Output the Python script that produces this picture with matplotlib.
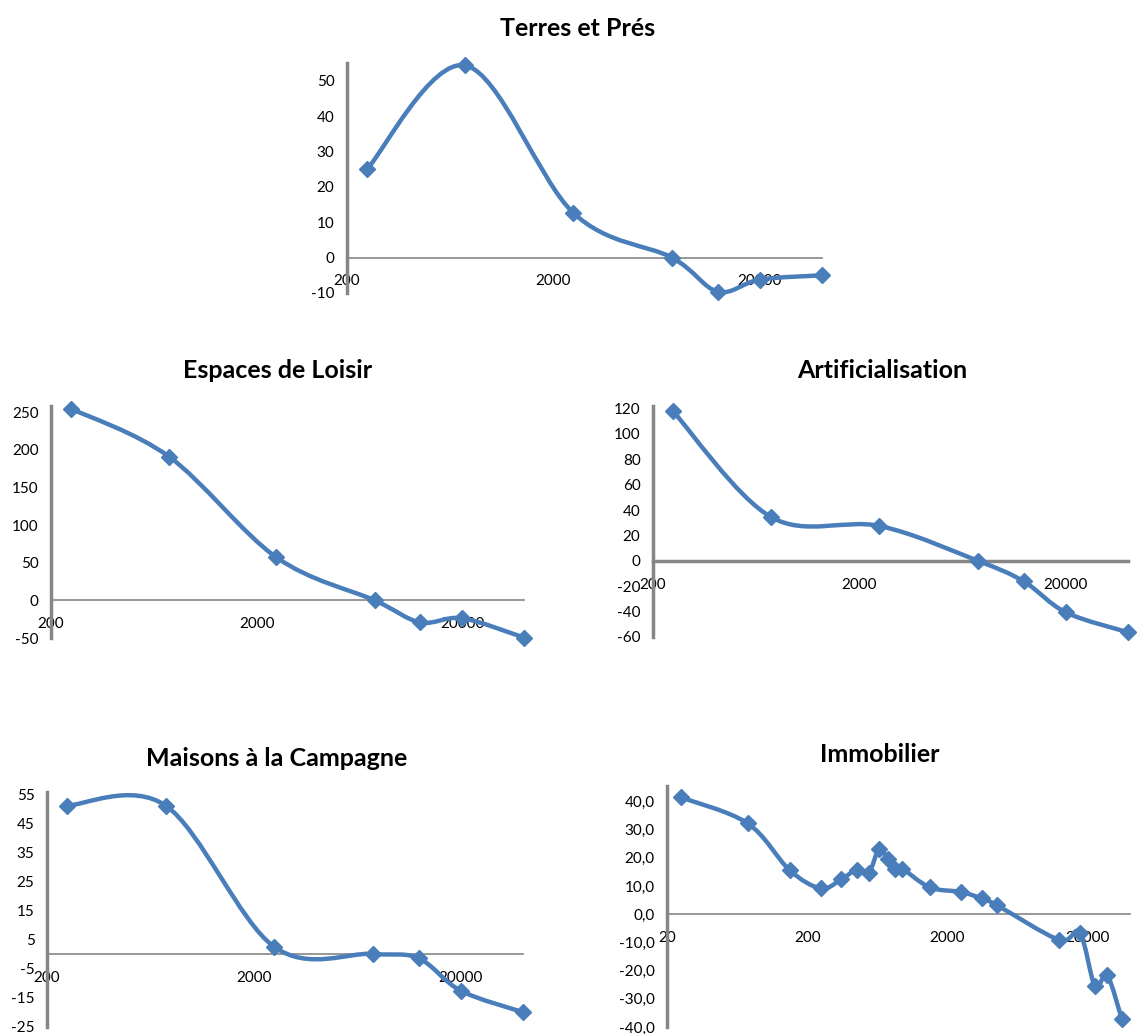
"""
Courbes d'évolution par usage du sol (axe x logarithmique)
"""
import numpy as np
import matplotlib
matplotlib.use("Agg")
import matplotlib.pyplot as plt
from matplotlib.path import Path
from matplotlib.patches import PathPatch
from matplotlib.ticker import FixedLocator, FuncFormatter, NullLocator

plt.rcParams['font.family'] = ['Lato', 'DejaVu Sans']

BLUE = '#4a7ebb'
GREY = '#868686'

# data
x_main = [250, 750, 2500, 7500, 12500, 20000, 40000]
terres = [25.0, 54.3, 12.6, 0.0, -9.6, -6.2, -5.0]
loisir = [254.5, 190.8, 57.0, 0.0, -29.2, -23.8, -49.4]
artif = [117.9, 34.3, 27.5, 0.0, -16.2, -40.6, -56.3]
maisons = [51.3, 51.3, 2.7, 0.2, -1.3, -12.5, -19.9]

x_immo = [25, 75, 150, 250, 350, 450, 550, 650, 750, 850, 950,
          1500, 2500, 3500, 4500, 12500, 17500, 22500, 27500, 35000]
immo = [41.5, 32.3, 15.6, 9.2, 12.4, 15.8, 14.8, 23.1, 19.5, 16.2, 16.2,
        9.5, 7.9, 5.6, 3.2, -9.1, -6.5, -25.5, -21.7, -37.3]

xticks_main = [200, 2000, 20000]
xticks_immo = [20, 200, 2000, 20000]

W, H = 1137, 1034
DPI = 100


def rect(left, right, top, bottom):
    return [left / W, 1 - bottom / H, (right - left) / W, (bottom - top) / H]


def smooth_path(ax, xs, ys):
    # Excel-like smoothed line: Catmull-Rom bezier built in display space
    pts = ax.transData.transform(np.column_stack([xs, ys]))
    n = len(pts)
    verts = [pts[0]]
    codes = [Path.MOVETO]
    for i in range(n - 1):
        p0 = pts[max(i - 1, 0)]
        p1 = pts[i]
        p2 = pts[i + 1]
        p3 = pts[min(i + 2, n - 1)]
        verts += [p1 + (p2 - p0) / 6, p2 - (p3 - p1) / 6, p2]
        codes += [Path.CURVE4] * 3
    verts = ax.transData.inverted().transform(np.array(verts))
    return Path(verts, codes)


def panel(fig, pos, title, title_xy, xs, ys, xlim, ylim, yticks, xticks,
          yfmt="{:g}", hline_w=1.2):
    ax = fig.add_axes(pos)
    ax.set_xscale('log')
    ax.set_xlim(*xlim)
    ax.set_ylim(*ylim)
    ax.xaxis.set_major_locator(FixedLocator(xticks))
    ax.xaxis.set_minor_locator(NullLocator())
    ax.xaxis.set_major_formatter(FuncFormatter(lambda v, p: f"{v:.0f}"))
    ax.yaxis.set_major_locator(FixedLocator(yticks))
    ax.yaxis.set_major_formatter(FuncFormatter(lambda v, p: yfmt.format(v).replace('.', ',')))
    for s in ['top', 'right']:
        ax.spines[s].set_visible(False)
    ax.spines['bottom'].set_position(('data', 0))
    ax.spines['bottom'].set_color(GREY)
    ax.spines['bottom'].set_linewidth(hline_w)
    ax.spines['left'].set_color(GREY)
    ax.spines['left'].set_linewidth(2.5)
    ax.tick_params(axis='x', length=0, pad=12, labelsize=11)
    ax.tick_params(axis='y', length=0, pad=9, labelsize=11)
    ax.patch.set_visible(False)

    ax.add_patch(PathPatch(smooth_path(ax, xs, ys), facecolor='none',
                           edgecolor=BLUE, lw=3.2, clip_on=False, zorder=3))
    ax.plot(xs, ys, linestyle='none', marker='D', markersize=8,
            color=BLUE, clip_on=False, zorder=4)
    fig.text(title_xy[0] / W, 1 - title_xy[1] / H, title, ha='center', va='center',
             fontsize=18, fontweight='bold')
    return ax


fig = plt.figure(figsize=(W / DPI, H / DPI), dpi=DPI)

panel(fig, rect(347, 822, 63, 293), "Terres et Prés", (578, 28),
      x_main, terres, (200, 40000), (-10, 55), range(-10, 51, 10), xticks_main)
panel(fig, rect(51, 524, 406, 638), "Espaces de Loisir", (278, 370),
      x_main, loisir, (200, 40000), (-50, 258), range(-50, 251, 50), xticks_main)
panel(fig, rect(653, 1128, 406, 637), "Artificialisation", (882, 370),
      x_main, artif, (200, 40000), (-60, 122), range(-60, 121, 20), xticks_main,
      hline_w=2.5)
panel(fig, rect(47, 523, 792, 1027), "Maisons à la Campagne", (277, 758),
      x_main, maisons, (200, 40000), (-25, 56), range(-25, 56, 10), xticks_main)
panel(fig, rect(667, 1130, 786, 1027), "Immobilier", (880, 755),
      x_immo, immo, (20, 40000), (-40, 45.5), range(-40, 41, 10), xticks_immo,
      yfmt="{:.1f}")

fig.savefig("out.png", dpi=DPI)
